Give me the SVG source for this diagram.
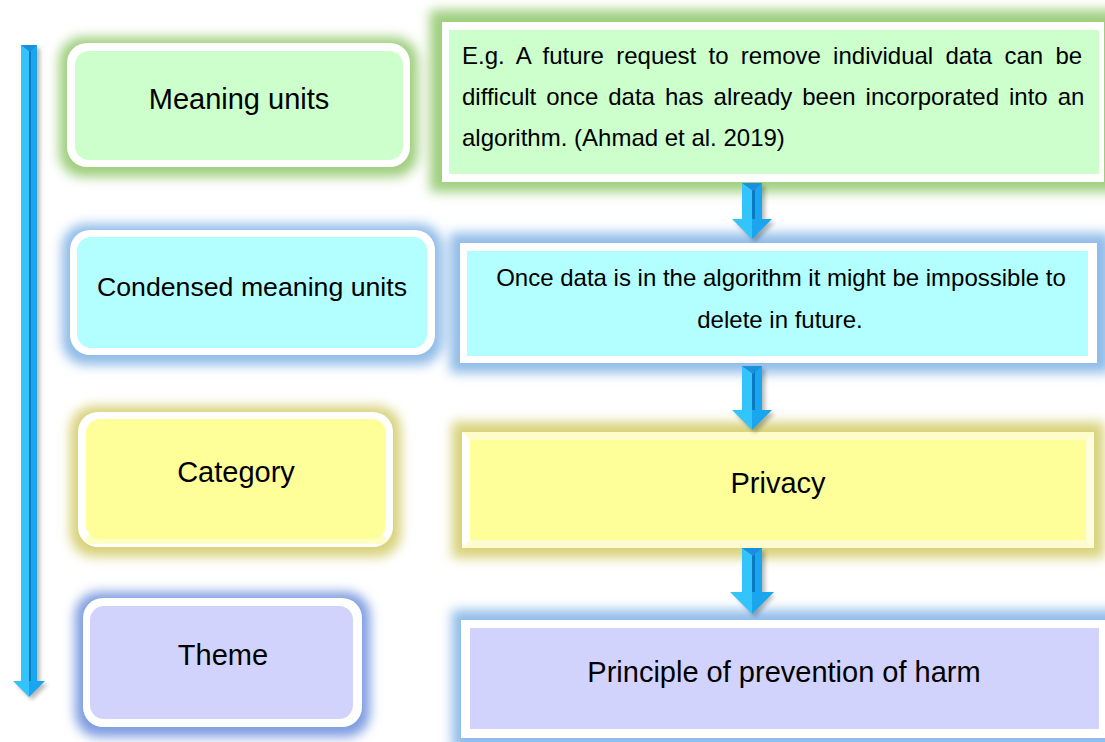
<svg xmlns="http://www.w3.org/2000/svg" width="1105" height="742" viewBox="0 0 1105 742">
  <defs>
    <filter id="glow" x="-20%" y="-40%" width="140%" height="180%">
      <feGaussianBlur stdDeviation="6"/>
    </filter>
    <filter id="shade" x="-50%" y="-20%" width="200%" height="140%">
      <feGaussianBlur stdDeviation="2.2"/>
    </filter>
    <style>
      .lbl { font-family: "Liberation Sans", Arial, sans-serif; fill: #000; }
      .big { font-size: 29px; text-anchor: middle; }
      .mid { font-size: 24px; }
      .ctr { text-anchor: middle; }
      .white { fill: #ffffff; }
      .g-green { fill: #9fcf7e; }
      .g-blue { fill: #8fbbe8; }
      .g-dblue { fill: #7d9be0; }
      .g-yellow { fill: #d8d27a; }
      .f-green { fill: #ccffcc; }
      .f-cyan { fill: #b3ffff; }
      .f-yellow { fill: #ffff99; }
      .f-lav { fill: #d2d3fc; }
      .a-light { fill: #33c4fb; }
      .a-mid { fill: #1aa6ee; }
      .a-dark { fill: #0a79c4; }
      .a-top { fill: #1c8fdb; }
      .a-shadow { fill: #000; opacity: 0.28; }
    </style>
  </defs>

  <!-- glows behind the boxes -->
  <g id="glows" filter="url(#glow)">
    <rect class="g-green" x="59" y="37" width="359" height="140" rx="24"/>
    <rect class="g-green" x="430" y="10" width="690" height="182"/>
    <rect class="g-blue" x="62" y="224" width="381" height="141" rx="24"/>
    <rect class="g-blue" x="450" y="233" width="660" height="140"/>
    <rect class="g-yellow" x="70" y="406" width="331" height="151" rx="24"/>
    <rect class="g-yellow" x="452" y="422" width="652" height="136"/>
    <rect class="g-dblue" x="75" y="592" width="295" height="145" rx="24"/>
    <rect class="g-blue" x="452" y="610" width="670" height="140"/>
  </g>

  <!-- left column: stage labels -->
  <g id="meaning-units">
    <rect class="white" x="67" y="43" width="343" height="124" rx="20"/>
    <rect class="f-green" x="75" y="51" width="328" height="109" rx="14"/>
    <text class="lbl big" x="239" y="109">Meaning units</text>
  </g>
  <g id="condensed-meaning-units">
    <rect class="white" x="70" y="230" width="365" height="125" rx="20"/>
    <rect class="f-cyan" x="77" y="237" width="350" height="111" rx="14"/>
    <text class="lbl ctr" x="252" y="296" font-size="26.7">Condensed meaning units</text>
  </g>
  <g id="category">
    <rect class="white" x="78" y="412" width="315" height="135" rx="20"/>
    <rect x="86" y="535" width="300" height="9" rx="4" fill="#fdfdc8"/>
    <rect class="f-yellow" x="86" y="419" width="300" height="120" rx="14"/>
    <text class="lbl big" x="236" y="482">Category</text>
  </g>
  <g id="theme">
    <rect class="white" x="83" y="598" width="279" height="129" rx="20"/>
    <rect class="f-lav" x="90" y="606" width="263" height="113" rx="14"/>
    <text class="lbl big" x="223" y="665">Theme</text>
  </g>

  <!-- right column: worked example -->
  <g id="example-meaning-unit">
    <rect class="white" x="442" y="22" width="662" height="160"/>
    <rect class="f-green" x="449" y="30" width="650" height="144"/>
    <text class="lbl mid" x="462" y="64" word-spacing="5.6">E.g. A future request to remove individual data can be</text>
    <text class="lbl mid" x="462" y="105" word-spacing="3.3">difficult once data has already been incorporated into an</text>
    <text class="lbl mid" x="462" y="146">algorithm. (Ahmad et al. 2019)</text>
  </g>
  <g id="example-condensed">
    <rect class="white" x="460" y="243" width="637" height="120"/>
    <rect class="f-cyan" x="467" y="251" width="621" height="105"/>
    <text class="lbl mid ctr" x="781" y="286">Once data is in the algorithm it might be impossible to</text>
    <text class="lbl mid ctr" x="780" y="328">delete in future.</text>
  </g>
  <g id="example-category">
    <!-- bevelled frame -->
    <rect x="462" y="432" width="632" height="116" fill="#fefdc9"/>
    <polygon points="462,432 470,440 470,540 462,548" fill="#ffffff"/>
    <polygon points="462,548 470,540 1086,540 1094,548" fill="#fdfcd0"/>
    <polygon points="1094,432 1086,440 1086,540 1094,548" fill="#fffde0"/>
    <rect class="f-yellow" x="470" y="440" width="616" height="100"/>
    <text class="lbl big" x="778" y="493">Privacy</text>
  </g>
  <g id="example-theme">
    <rect class="white" x="461" y="620" width="644" height="118"/>
    <rect class="f-lav" x="470" y="628" width="629" height="101"/>
    <text class="lbl big" x="784" y="682">Principle of prevention of harm</text>
  </g>

  <!-- connectors: block arrows -->
  <g id="connectors">
    <!-- long process arrow on the far left -->
    <g id="process-arrow">
      <polygon class="a-shadow" filter="url(#shade)" points="24,48 40,48 40,684 48,684 32,700 16,684 24,684"/>
      <rect class="a-light" x="21" y="45" width="9" height="637"/>
      <rect class="a-dark" x="29" y="45" width="2.5" height="637"/>
      <rect class="a-mid" x="31.5" y="45" width="5.5" height="637"/>
      <polygon class="a-top" points="21,45 37,45 30,52"/>
      <polygon class="a-light" points="13,681 29,681 29,697"/>
      <polygon class="a-mid" points="29,681 45,681 29,697"/>
    </g>
    <g id="arrow-1">
      <polygon class="a-shadow" filter="url(#shade)" points="745,186 765,186 765,222 775,222 755,242 735,222 745,222"/>
      <rect class="a-light" x="742" y="183" width="11" height="37"/>
      <rect class="a-dark" x="752" y="183" width="3" height="37"/>
      <rect class="a-mid" x="755" y="183" width="7" height="37"/>
      <polygon class="a-top" points="742,183 762,183 753,191"/>
      <polygon class="a-light" points="732,219 752,219 752,239"/>
      <polygon class="a-mid" points="752,219 772,219 752,239"/>
    </g>
    <g id="arrow-2">
      <polygon class="a-shadow" filter="url(#shade)" points="745,369 765,369 765,413 775,413 755,433 735,413 745,413"/>
      <rect class="a-light" x="742" y="366" width="11" height="45"/>
      <rect class="a-dark" x="752" y="366" width="3" height="45"/>
      <rect class="a-mid" x="755" y="366" width="7" height="45"/>
      <polygon class="a-top" points="742,366 762,366 753,374"/>
      <polygon class="a-light" points="732,410 752,410 752,430"/>
      <polygon class="a-mid" points="752,410 772,410 752,430"/>
    </g>
    <g id="arrow-3">
      <polygon class="a-shadow" filter="url(#shade)" points="745,551 765,551 765,595 775,595 755,617 735,595 745,595"/>
      <rect class="a-light" x="742" y="548" width="11" height="45"/>
      <rect class="a-dark" x="752" y="548" width="3" height="45"/>
      <rect class="a-mid" x="755" y="548" width="7" height="45"/>
      <polygon class="a-top" points="742,548 762,548 753,556"/>
      <polygon class="a-light" points="730,592 752,592 752,614"/>
      <polygon class="a-mid" points="752,592 774,592 752,614"/>
    </g>
  </g>
</svg>
